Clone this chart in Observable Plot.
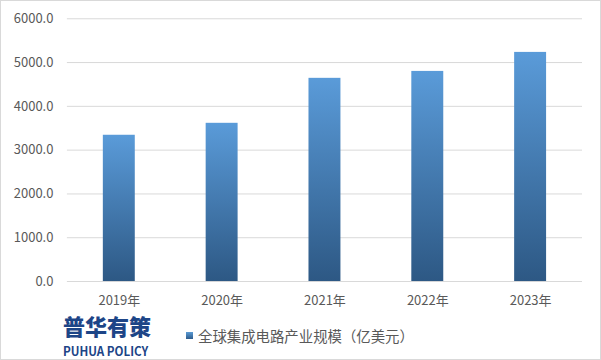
<!DOCTYPE html>
<html>
<head>
<meta charset="utf-8">
<script src="https://cdn.jsdelivr.net/npm/d3@7"></script>
<script src="https://cdn.jsdelivr.net/npm/@observablehq/plot@0.6"></script>
<style>
  html, body { margin: 0; padding: 0; background: #fff; }
  #wrap { position: relative; width: 601px; height: 360px; box-sizing: border-box; border: 1px solid #d9d9d9; overflow: hidden; font-family: "Noto Sans CJK SC", "Noto Sans", sans-serif; }
  #chart { position: absolute; left: -1px; top: -1px; }
  #logo1 { position: absolute; left: 62px; top: 313px; font-size: 22px; font-weight: 900; color: #1d4587; letter-spacing: 0px; line-height: 1; }
  #logo2 { position: absolute; left: 62px; top: 344px; font-size: 12.5px; font-weight: 700; color: #1d4587; line-height: 1; transform-origin: left top; transform: scaleX(0.93); white-space: nowrap; }
  #legend { position: absolute; left: 185px; top: 324px; font-size: 14.4px; color: #595959; display: flex; align-items: center; white-space: nowrap; }
  #legend .sw { width: 7px; height: 7px; background: linear-gradient(#5b9bd5, #2e5c8c); margin-right: 5px; }
</style>
</head>
<body>
<div id="wrap">
  <div id="chart"></div>
  <div id="logo1">普华有策</div>
  <div id="logo2">PUHUA POLICY</div>
  <div id="legend"><div class="sw"></div><span id="legendText"></span></div>
</div>
<script>
const years = ["2019年", "2020年", "2021年", "2022年", "2023年"];
const values = [3340, 3613, 4640, 4798, 5232];
const seriesName = "全球集成电路产业规模（亿美元）";
const yTicks = [0, 1000, 2000, 3000, 4000, 5000, 6000];

const data = years.map((y, i) => ({year: y, value: values[i]}));
document.getElementById("legendText").textContent = seriesName;

const chart = Plot.plot({
  width: 601,
  height: 316,
  marginLeft: 67,
  marginRight: 18,
  marginTop: 18,
  marginBottom: 34,
  style: {fontFamily: '"Noto Sans CJK SC", "Noto Sans", sans-serif', fontSize: "13px", color: "#595959", background: "transparent"},
  x: {domain: years, range: [67.5, 582.5], paddingInner: 0.69, paddingOuter: 0.345, label: null},
  y: {domain: [0, 6000], range: [281.5, 18.3], label: null},
  marks: [
    Plot.ruleY(yTicks, {stroke: "#d9d9d9", strokeWidth: 1}),
    Plot.barY(data, {x: "year", y: "value", fill: "url(#barGrad)"}),
    Plot.axisY(yTicks, {tickSize: 0, tickPadding: 14, tickFormat: d3.format(".1f"), fontSize: 13, fill: "#595959", label: null}),
    Plot.axisX({tickSize: 0, tickPadding: 14, fontSize: 13, fill: "#595959", label: null})
  ]
});

const svg = d3.select(chart);
const defs = svg.insert("defs", ":first-child");
const grad = defs.append("linearGradient").attr("id", "barGrad").attr("x1", 0).attr("y1", 0).attr("x2", 0).attr("y2", 1);
grad.append("stop").attr("offset", "0%").attr("stop-color", "#5a9bd9");
grad.append("stop").attr("offset", "100%").attr("stop-color", "#2d5884");

document.getElementById("chart").appendChild(chart);
</script>
</body>
</html>
